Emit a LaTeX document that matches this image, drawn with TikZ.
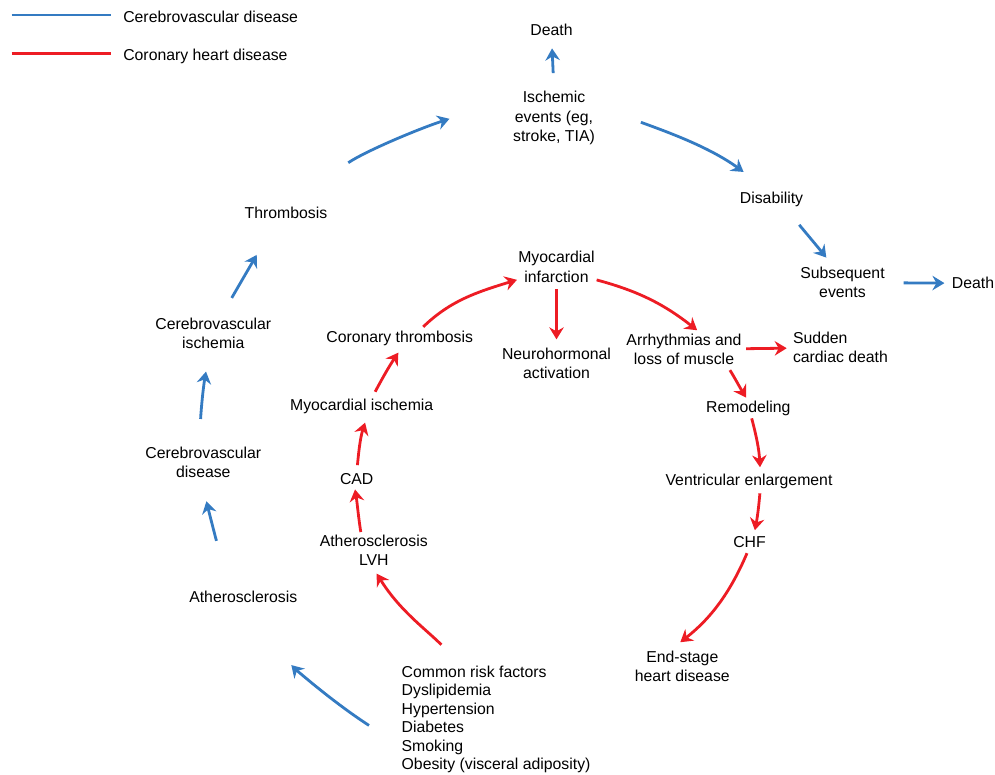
\documentclass[tikz,border=0pt]{standalone}
\usepackage{fontspec}
\setmainfont{Liberation Sans}
\usetikzlibrary{arrows.meta}
\definecolor{cvblue}{RGB}{52,123,194}
\definecolor{chdred}{RGB}{237,28,36}

\begin{document}
\begin{tikzpicture}[x=1pt, y=1pt,
                    txt/.style={inner sep=0pt, outer sep=0pt, align=center,
                                font=\fontsize{15.8}{19.5}\selectfont},
                    cvarrow/.style={draw=cvblue, line width=2.8pt,
                                    -{Stealth[length=12pt,width=14.5pt,inset=4pt]}},
                    chdarrow/.style={draw=chdred, line width=2.8pt,
                                     -{Stealth[length=12pt,width=14.5pt,inset=4pt]}}
                    ]
    \useasboundingbox (0,0) rectangle (995,-775);

    % legend
    \coordinate (keyA) at (11.7,-15);
    \coordinate (keyB) at (11.7,-53.3);
    \draw[cvblue, line width=2.7pt] (keyA) -- ++(99.3,0);
    \draw[chdred, line width=2.7pt] (keyB) -- ++(99.3,0);
    \node[txt, anchor=west] (keycv) at (123.3,-17.3) {Cerebrovascular disease};
    \node[txt, anchor=west] (keychd) at (123.3,-56.6) {Coronary heart disease};

    % cerebrovascular path
    \node[txt] (deathT) at (551.5,-30) {Death};
    \node[txt] (isch) at (554,-118) {Ischemic\\events (eg,\\stroke, TIA)};
    \node[txt] (thromb) at (286,-212.7) {Thrombosis};
    \node[txt] (disab) at (771.5,-199.6) {Disability};
    \node[txt] (subseq) at (842.5,-282.5) {Subsequent\\events};
    \node[txt] (deathR) at (973,-283.3) {Death};
    \node[txt] (cisch) at (213.3,-333.4) {Cerebrovascular\\ischemia};
    \node[txt] (cdis) at (203.3,-462.5) {Cerebrovascular\\disease};
    \node[txt] (athl) at (243.3,-596.7) {Atherosclerosis};

    % coronary path
    \node[txt] (mi) at (556.5,-267) {Myocardial\\infarction};
    \node[txt] (neuro) at (556.5,-363.3) {Neurohormonal\\activation};
    \node[txt] (arrhy) at (684,-349.5) {Arrhythmias and\\loss of muscle};
    \node[txt, align=left, anchor=west] (sudden) at (793,-347.5) {Sudden\\cardiac death};
    \node[txt] (corthr) at (399.7,-338.4) {Coronary thrombosis};
    \node[txt] (myoisch) at (361.7,-406.7) {Myocardial ischemia};
    \node[txt] (remod) at (748.3,-408.4) {Remodeling};
    \node[txt] (cad) at (356.7,-479.3) {CAD};
    \node[txt] (ventr) at (749,-481) {Ventricular enlargement};
    \node[txt] (athlvh) at (373.8,-550.5) {Atherosclerosis\\LVH};
    \node[txt] (chf) at (749.5,-541.7) {CHF};
    \node[txt] (endst) at (682.3,-666.4) {End-stage\\heart disease};

    \node[txt, align=left, anchor=north west, font=\fontsize{15.8}{18.5}\selectfont]
        (risk) at (401.7,-666) {Common risk factors\\Dyslipidemia\\Hypertension\\Diabetes\\Smoking\\Obesity (visceral adiposity)};

    \draw[cvarrow, shorten <=18pt, shorten >=12.6pt] (isch.north) -- (deathT.south);
    \draw[cvarrow, shorten <=79pt, shorten >=67pt] (thromb.119) to[out=34,in=198] (isch.154);
    \draw[cvarrow, shorten <=49pt, shorten >=34.5pt] (isch.17) to[out=-20,in=144] (disab.north);
    \draw[cvarrow, shorten <=23pt, shorten >=12pt] (disab.-29) to[out=-51,in=129] (subseq.119);
    \draw[cvarrow, shorten <=19pt, shorten >=7.5pt] (subseq) -- (deathR);
    \draw[cvarrow, shorten <=23pt, shorten >=42pt] (cisch.66) to[out=60,in=240] (thromb.215);
    \draw[cvarrow, shorten <=28pt, shorten >=23pt] (cdis.105) to[out=87,in=260] (cisch.258);
    \draw[cvarrow, shorten <=53pt, shorten >=24pt] (athl.158) to[out=104,in=284] (cdis.260);
    \draw[cvarrow, shorten <=39pt, shorten >=87pt] (risk.196) to[out=147,in=314] (athl.205);

    \draw[chdarrow, shorten <=30pt, shorten >=9pt] (risk.122) to[out=135,in=302] (athlvh.263);
    \draw[chdarrow, shorten <=3pt, shorten >=4.6pt] (athlvh.129) to[out=99,in=279] (cad.247);
    \draw[chdarrow, shorten <=8.6pt, shorten >=9pt] (cad.north) to[out=85,in=252] (myoisch.-50);
    \draw[chdarrow, shorten <=8.6pt, shorten >=8.3pt] (myoisch.38) to[out=62,in=236] (corthr.-66);
    \draw[chdarrow, shorten <=6pt, shorten >=1.4pt] (corthr.21) to[out=44,in=197] (mi.198);
    \draw[chdarrow, shorten <=6.3pt, shorten >=8.4pt] (mi.south) -- (mi.south |- neuro.north);
    \draw[chdarrow, shorten <=2pt, shorten >=6pt] (mi.-18) to[out=-15,in=142] (arrhy.41);
    \draw[chdarrow, shorten <=4.7pt, shorten >=6.3pt] (arrhy) -- (sudden);
    \draw[chdarrow, shorten <=6pt, shorten >=4pt] (arrhy.-20) to[out=-58,in=122] (remod.north);
    \draw[chdarrow, shorten <=2.7pt, shorten >=6.4pt] (remod.-70) to[out=-75,in=93] (ventr.33);
    \draw[chdarrow, shorten <=5pt, shorten >=6pt] (ventr.-33) to[out=-95,in=79] (chf.53);
    \draw[chdarrow, shorten <=6.4pt, shorten >=14pt] (chf.south) to[out=-113,in=38] (endst.130);
\end{tikzpicture}
\end{document}
